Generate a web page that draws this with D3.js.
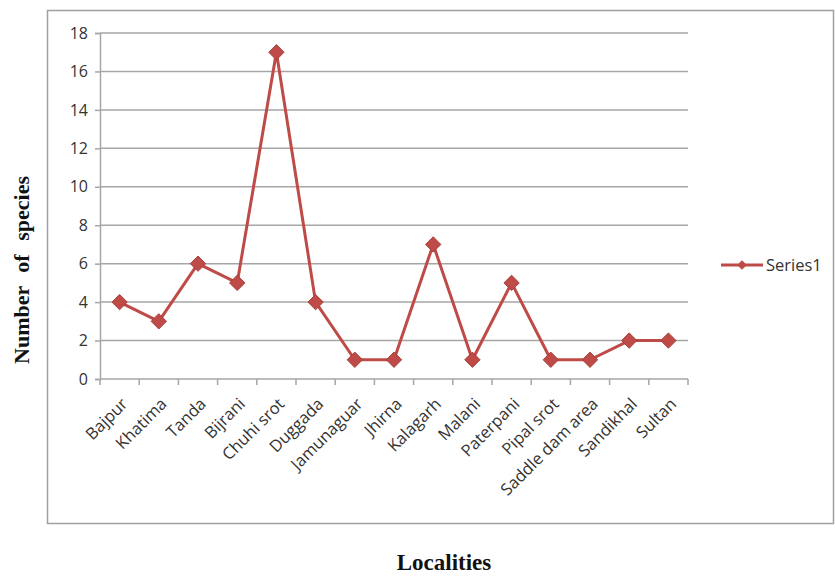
<!DOCTYPE html>
<html>
<head>
<meta charset="utf-8">
<script src="https://cdn.jsdelivr.net/npm/d3@7"></script>
<style>
  html, body { margin: 0; padding: 0; background: #fff; }
  svg { display: block; }
</style>
</head>
<body>
<svg id="chart" width="835" height="577"></svg>
<script>
// Species count per locality
const localities = ["Bajpur", "Khatima", "Tanda", "Bijrani", "Chuhi srot", "Duggada",
  "Jamunaguar", "Jhirna", "Kalagarh", "Malani", "Paterpani", "Pipal srot",
  "Saddle dam area", "Sandikhal", "Sultan"];
const speciesCounts = [4, 3, 6, 5, 17, 4, 1, 1, 7, 1, 5, 1, 1, 2, 2];
const yTicks = [0, 2, 4, 6, 8, 10, 12, 14, 16, 18];
const seriesName = "Series1";

const svg = d3.select("#chart");
const lineColor = "#be4b48";
const labelFont = "'Open Sans', 'Liberation Sans', sans-serif";
const titleFont = "'Liberation Serif', 'DejaVu Serif', serif";

// Outer chart frame
svg.append("rect")
  .attr("x", 47.5).attr("y", 10.5)
  .attr("width", 786).attr("height", 513)
  .attr("fill", "#fff")
  .attr("stroke", "#a0a0a0").attr("stroke-width", 1.5);

const plot = { left: 100, right: 688, top: 33, bottom: 379 };

const x = d3.scaleBand().domain(localities).range([plot.left, plot.right]).padding(0);
const y = d3.scaleLinear().domain([0, 18]).range([plot.bottom, plot.top]);

// Horizontal gridlines
svg.append("g").selectAll("line")
  .data(yTicks.filter(t => t > 0))
  .join("line")
  .attr("x1", plot.left).attr("x2", plot.right)
  .attr("y1", d => y(d)).attr("y2", d => y(d))
  .attr("stroke", "#a6a6a6").attr("stroke-width", 1.5);

// Y axis
const yAxis = svg.append("g")
  .attr("transform", `translate(${plot.left},0)`)
  .call(d3.axisLeft(y).tickValues(yTicks).tickSize(5).tickPadding(7));
yAxis.select(".domain").attr("stroke", "#a6a6a6").attr("stroke-width", 1.5);
yAxis.selectAll(".tick line").attr("stroke", "#a6a6a6").attr("stroke-width", 1.5);
yAxis.selectAll("text")
  .attr("font-family", labelFont).attr("font-size", 16).attr("fill", "#333");

// X axis with ticks at category boundaries
const xAxisG = svg.append("g").attr("transform", `translate(0,${plot.bottom})`);
xAxisG.append("line")
  .attr("x1", plot.left).attr("x2", plot.right)
  .attr("stroke", "#a6a6a6").attr("stroke-width", 1.5);
const boundaries = localities.map(d => x(d)).concat([plot.right]);
xAxisG.selectAll("line.tk")
  .data(boundaries)
  .join("line").attr("class", "tk")
  .attr("x1", d => d).attr("x2", d => d)
  .attr("y1", 0).attr("y2", 6)
  .attr("stroke", "#a6a6a6").attr("stroke-width", 1.5);
xAxisG.selectAll("text")
  .data(localities)
  .join("text")
  .attr("transform", d => `translate(${x(d) + x.bandwidth() / 2 + 9},${26}) rotate(-45)`)
  .attr("text-anchor", "end")
  .attr("font-family", labelFont).attr("font-size", 16.5).attr("fill", "#333")
  .text(d => d);

// Data line
const cx = d => x(d) + x.bandwidth() / 2;
const line = d3.line().x((d, i) => cx(localities[i])).y(d => y(d));
svg.append("path")
  .datum(speciesCounts)
  .attr("d", line)
  .attr("fill", "none")
  .attr("stroke", lineColor).attr("stroke-width", 3)
  .attr("stroke-linejoin", "round");

// Diamond markers
const diamond = d3.symbol().type(d3.symbolDiamond2).size(150);
svg.append("g").selectAll("path")
  .data(speciesCounts)
  .join("path")
  .attr("d", diamond)
  .attr("transform", (d, i) => `translate(${cx(localities[i])},${y(d)})`)
  .attr("fill", lineColor)
  .attr("stroke", "#a8403d").attr("stroke-width", 1);

// Legend
const lg = svg.append("g").attr("transform", "translate(721,265)");
lg.append("line").attr("x1", 0).attr("x2", 42).attr("y1", 0).attr("y2", 0)
  .attr("stroke", lineColor).attr("stroke-width", 3);
lg.append("path").attr("d", d3.symbol().type(d3.symbolDiamond2).size(60))
  .attr("transform", "translate(21,0)").attr("fill", lineColor);
lg.append("text").attr("x", 45).attr("y", 6)
  .attr("font-family", labelFont).attr("font-size", 16.5).attr("fill", "#333")
  .text(seriesName);

// Axis titles
svg.append("text")
  .attr("transform", "translate(29,270) rotate(-90)")
  .attr("text-anchor", "middle")
  .attr("font-family", titleFont)
  .attr("font-weight", "bold").attr("font-size", 22)
  .attr("word-spacing", 8)
  .attr("fill", "#111")
  .text("Number of species");

svg.append("text")
  .attr("x", 444).attr("y", 570)
  .attr("text-anchor", "middle")
  .attr("font-family", titleFont)
  .attr("font-weight", "bold").attr("font-size", 23)
  .attr("fill", "#111")
  .text("Localities");
</script>
</body>
</html>
